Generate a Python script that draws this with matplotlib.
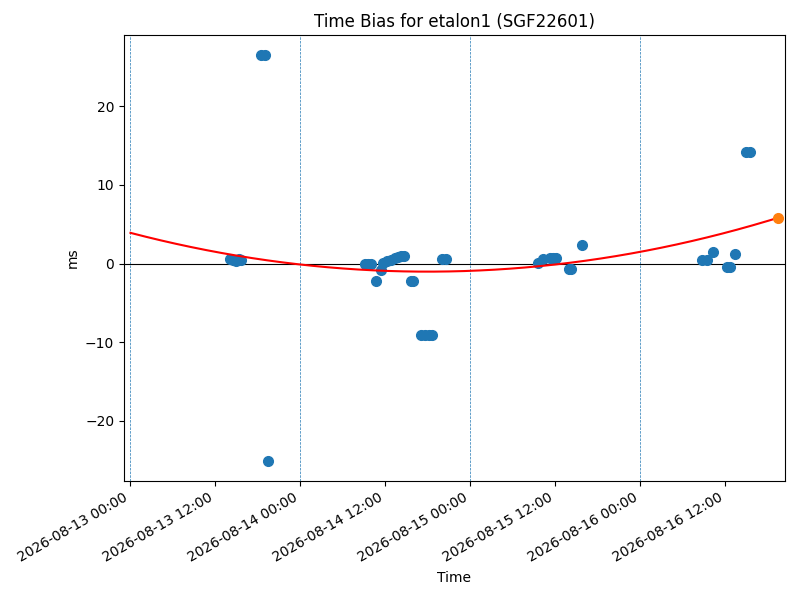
import matplotlib
matplotlib.use("Agg")
import matplotlib.pyplot as plt
import matplotlib.dates as mdates
import numpy as np
import pandas as pd

obs_times = [
    "2026-08-13 14:07", "2026-08-13 14:32", "2026-08-13 14:58", "2026-08-13 15:23", "2026-08-13 15:40",
    "2026-08-13 18:30", "2026-08-13 19:04", "2026-08-13 19:29",
    "2026-08-14 09:11", "2026-08-14 09:36", "2026-08-14 10:01", "2026-08-14 10:44", "2026-08-14 11:26",
    "2026-08-14 11:43", "2026-08-14 12:17", "2026-08-14 12:51", "2026-08-14 13:25", "2026-08-14 13:50",
    "2026-08-14 14:15", "2026-08-14 14:41", "2026-08-14 15:40", "2026-08-14 15:57", "2026-08-14 17:05",
    "2026-08-14 17:39", "2026-08-14 18:13", "2026-08-14 18:38", "2026-08-14 20:03", "2026-08-14 20:37",
    "2026-08-15 09:36", "2026-08-15 10:18", "2026-08-15 11:18", "2026-08-15 11:43", "2026-08-15 12:08",
    "2026-08-15 13:59", "2026-08-15 14:16", "2026-08-15 15:49",
    "2026-08-16 08:45", "2026-08-16 09:28", "2026-08-16 10:18", "2026-08-16 12:17", "2026-08-16 12:42",
    "2026-08-16 13:25", "2026-08-16 14:58", "2026-08-16 15:32",
]
obs_bias_ms = [
    0.6, 0.5, 0.3, 0.6, 0.5,
    26.5, 26.5, -25.1,
    0.0, 0.0, 0.0, -2.2, -0.8,
    0.1, 0.3, 0.5, 0.7, 0.8,
    0.9, 1.0, -2.2, -2.2, -9.1,
    -9.1, -9.1, -9.1, 0.6, 0.6,
    0.1, 0.6, 0.7, 0.7, 0.7,
    -0.7, -0.7, 2.4,
    0.4, 0.4, 1.5, -0.4, -0.4,
    1.2, 14.2, 14.2,
]
fit_start = "2026-08-13 00:00"
predict_time = "2026-08-16 19:29"
# quadratic fit coefficients (ms vs days since fit_start), highest power first
fit_coeffs = [1.613, -5.643, 3.9]
day_lines = ["2026-08-13", "2026-08-14", "2026-08-15", "2026-08-16"]

t_obs = pd.to_datetime(obs_times)
t0 = pd.Timestamp(fit_start)
t_pred = pd.Timestamp(predict_time)

fig, ax = plt.subplots(figsize=(8, 6), dpi=100)

for d in day_lines:
    ax.axvline(pd.Timestamp(d), color="C0", linestyle="--", linewidth=0.5)
ax.axhline(0, color="black", linewidth=0.8)

ax.plot(t_obs, obs_bias_ms, "o", color="C0", markersize=7, linestyle="none")

t_curve = pd.date_range(t0, t_pred, periods=300)
days = (t_curve - t0) / pd.Timedelta(days=1)
ax.plot(t_curve, np.polyval(fit_coeffs, np.asarray(days)), color="red", linewidth=1.5)

pred_days = (t_pred - t0) / pd.Timedelta(days=1)
ax.plot([t_pred], [np.polyval(fit_coeffs, pred_days)], "o", color="C1", markersize=7)

ax.margins(x=0.01)
ax.xaxis.set_major_locator(mdates.HourLocator(byhour=[0, 12]))
ax.xaxis.set_major_formatter(mdates.DateFormatter("%Y-%m-%d %H:%M"))
ax.set_title("Time Bias for etalon1 (SGF22601)")
ax.set_xlabel("Time")
ax.set_ylabel("ms")
fig.autofmt_xdate()
fig.subplots_adjust(left=0.155, right=0.981, top=0.9417, bottom=0.1983)
fig.savefig("out.png")
